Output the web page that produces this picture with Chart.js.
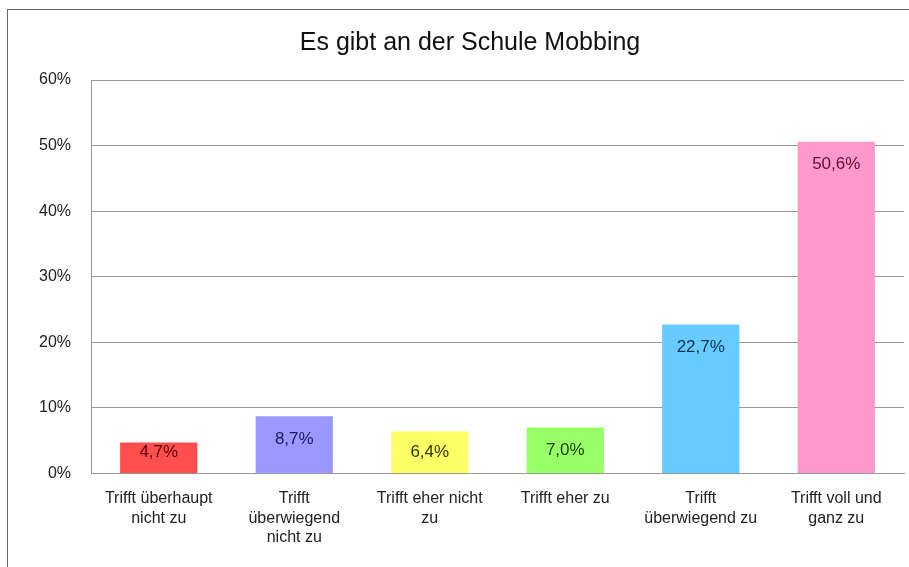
<!DOCTYPE html>
<html>
<head>
<meta charset="utf-8">
<script src="https://cdn.jsdelivr.net/npm/chart.js@4.4.0/dist/chart.umd.min.js"></script>
<style>
  body { margin: 0; background: #fff; overflow: hidden; }
  #frame { position: absolute; left: 7px; top: 9px; width: 960px; height: 600px; border: 1px solid #666; }
  #wrap { position: absolute; left: 0; top: 0; width: 940px; height: 567px; }
</style>
</head>
<body>
<div id="frame"></div>
<div id="wrap"><canvas id="chart"></canvas></div>
<script>
const categories = [
  ["Trifft überhaupt", "nicht zu"],
  ["Trifft", "überwiegend", "nicht zu"],
  ["Trifft eher nicht", "zu"],
  ["Trifft eher zu"],
  ["Trifft", "überwiegend zu"],
  ["Trifft voll und", "ganz zu"]
];
const values = [4.7, 8.7, 6.4, 7.0, 22.7, 50.6];
const valueLabels = ["4,7%", "8,7%", "6,4%", "7,0%", "22,7%", "50,6%"];
const barColors = ["#ff4f4f", "#9999ff", "#ffff66", "#99ff66", "#66ccff", "#ff99cc"];
const labelColors = ["#5a0000", "#1a1a5c", "#33330a", "#173d0a", "#10304f", "#5a1030"];

const FONT = "'Liberation Sans', Arial, sans-serif";

// value text inside the top of each bar, kept off the base for short bars
const barLabels = {
  id: "barLabels",
  afterDatasetsDraw(chart) {
    const ctx = chart.ctx;
    const meta = chart.getDatasetMeta(0);
    ctx.save();
    ctx.font = "17px " + FONT;
    ctx.textAlign = "center";
    ctx.textBaseline = "middle";
    meta.data.forEach((bar, i) => {
      const y = Math.min(bar.y + 23, bar.base - 21);
      ctx.fillStyle = labelColors[i];
      ctx.fillText(valueLabels[i], bar.x, y);
    });
    ctx.restore();
  }
};

const ctx = document.getElementById("chart");
new Chart(ctx, {
  type: "bar",
  data: {
    labels: categories,
    datasets: [{
      data: values,
      backgroundColor: barColors,
      borderWidth: 0,
      categoryPercentage: 1,
      barPercentage: 0.57
    }]
  },
  options: {
    responsive: true,
    maintainAspectRatio: false,
    animation: false,
    layout: { padding: { top: 22, right: 36, left: 36, bottom: 4 } },
    plugins: {
      legend: { display: false },
      tooltip: { enabled: false },
      title: {
        display: true,
        text: "Es gibt an der Schule Mobbing",
        color: "#111",
        font: { family: FONT, size: 25, weight: "normal" },
        padding: { top: 6, bottom: 22 }
      }
    },
    scales: {
      x: {
        grid: { display: false, drawTicks: false },
        border: { display: true, color: "#999" },
        ticks: {
          color: "#222",
          padding: 16,
          maxRotation: 0,
          autoSkip: false,
          font: { family: FONT, size: 16, lineHeight: 1.2 }
        }
      },
      y: {
        min: 0,
        max: 60,
        afterFit(scale) { scale.width = 55; },
        grid: { color: "#999", drawTicks: false },
        border: { display: true, color: "#999" },
        ticks: {
          stepSize: 10,
          color: "#222",
          padding: 20,
          font: { family: FONT, size: 16 },
          callback: (v) => v + "%"
        }
      }
    }
  },
  plugins: [barLabels]
});
</script>
</body>
</html>
